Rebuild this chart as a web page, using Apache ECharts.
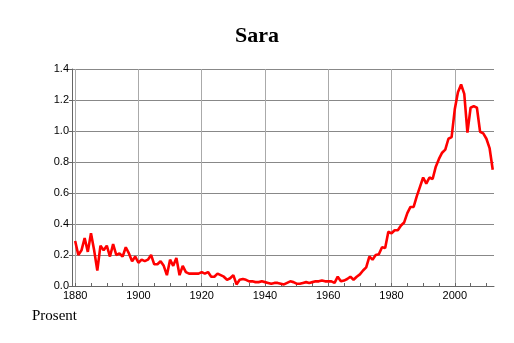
<!DOCTYPE html>
<html><head><meta charset="utf-8">
<script src="https://cdn.jsdelivr.net/npm/echarts@6/dist/echarts.min.js"></script>
<style>html,body{margin:0;padding:0;background:#fff}#c{width:514px;height:343px}</style>
</head><body><div id="c"></div>
<script>
const titleText = "Sara";
const yAxisName = "Prosent";
const startYear = 1880;
const values = [
  // 1880-1889
  0.29, 0.20, 0.23, 0.31, 0.22, 0.34, 0.23, 0.10, 0.26, 0.23,
  // 1890-1899
  0.26, 0.19, 0.27, 0.20, 0.21, 0.19, 0.25, 0.21, 0.16, 0.19,
  // 1900-1909
  0.15, 0.17, 0.16, 0.17, 0.20, 0.14, 0.14, 0.16, 0.13, 0.07,
  // 1910-1919
  0.17, 0.13, 0.18, 0.07, 0.13, 0.09, 0.08, 0.08, 0.08, 0.08,
  // 1920-1929
  0.09, 0.08, 0.09, 0.06, 0.06, 0.08, 0.07, 0.06, 0.04, 0.05,
  // 1930-1939
  0.07, 0.01, 0.04, 0.045, 0.04, 0.03, 0.03, 0.025, 0.025, 0.03,
  // 1940-1949
  0.025, 0.02, 0.015, 0.02, 0.02, 0.015, 0.01, 0.02, 0.03, 0.025,
  // 1950-1959
  0.015, 0.015, 0.02, 0.025, 0.02, 0.025, 0.03, 0.03, 0.035, 0.03,
  // 1960-1969
  0.03, 0.03, 0.02, 0.06, 0.03, 0.035, 0.045, 0.06, 0.04, 0.06,
  // 1970-1979
  0.075, 0.10, 0.12, 0.19, 0.17, 0.20, 0.205, 0.25, 0.245, 0.35,
  // 1980-1989
  0.34, 0.36, 0.36, 0.39, 0.41, 0.47, 0.51, 0.51, 0.58, 0.64,
  // 1990-1999
  0.70, 0.66, 0.70, 0.69, 0.77, 0.82, 0.86, 0.88, 0.95, 0.96,
  // 2000-2009
  1.14, 1.25, 1.30, 1.24, 0.99, 1.15, 1.16, 1.15, 0.995, 0.985,
  // 2010-2012
  0.95, 0.89, 0.75
];
const xLabelValues = [1880, 1900, 1920, 1940, 1960, 1980, 2000];
const xTickValues = [1880,1885,1890,1895,1900,1905,1910,1915,1920,1925,1930,1935,1940,1945,1950,1955,1960,1965,1970,1975,1980,1985,1990,1995,2000,2005,2010];

const data = values.map((v, i) => [startYear + i, v]);
const chart = echarts.init(document.getElementById('c'), null, {renderer: 'canvas'});
const xMin = 1879, xMax = 2012.4;
chart.setOption({
  animation: false,
  backgroundColor: '#fff',
  title: {
    text: titleText, left: 'center', top: 20,
    textStyle: {fontFamily: 'Liberation Serif', fontWeight: 'bold', fontSize: 22, color: '#000'}
  },
  graphic: [{
    type: 'text', left: 32, top: 309,
    style: {text: yAxisName, font: '15px "Liberation Serif"', fill: '#000'}
  }],
  grid: {left: 72, right: 20, top: 69, bottom: 57},
  xAxis: [{
    type: 'value', min: xMin, max: xMax, position: 'bottom',
    axisLine: {show: false},
    axisTick: {show: false, customValues: xLabelValues},
    axisLabel: {customValues: xLabelValues, color: '#000', fontFamily: 'Liberation Sans', fontSize: 11, margin: 4,
      formatter: v => String(Math.round(v))},
    splitLine: {show: true, lineStyle: {color: '#aaa', width: 1}}
  }, {
    type: 'value', min: xMin, max: xMax, position: 'bottom',
    axisLine: {show: true, onZero: false, lineStyle: {color: '#666', width: 1}},
    axisTick: {show: true, inside: true, length: 3, customValues: xTickValues, lineStyle: {color: '#666'}},
    axisLabel: {show: false, customValues: xTickValues},
    splitLine: {show: false}
  }],
  yAxis: {
    type: 'value', min: 0, max: 1.4, interval: 0.2,
    axisLine: {show: true, lineStyle: {color: '#666', width: 1}},
    axisTick: {show: true, length: 3, lineStyle: {color: '#666'}},
    axisLabel: {color: '#000', fontFamily: 'Liberation Sans', fontSize: 11, margin: 3,
      formatter: v => v.toFixed(1)},
    splitLine: {show: true, lineStyle: {color: '#888', width: 1}}
  },
  series: [{
    type: 'line', xAxisIndex: 0, data: data, showSymbol: false, symbol: 'none',
    lineStyle: {color: '#ff0000', width: 2.6}, z: 5
  }]
});
</script></body></html>
